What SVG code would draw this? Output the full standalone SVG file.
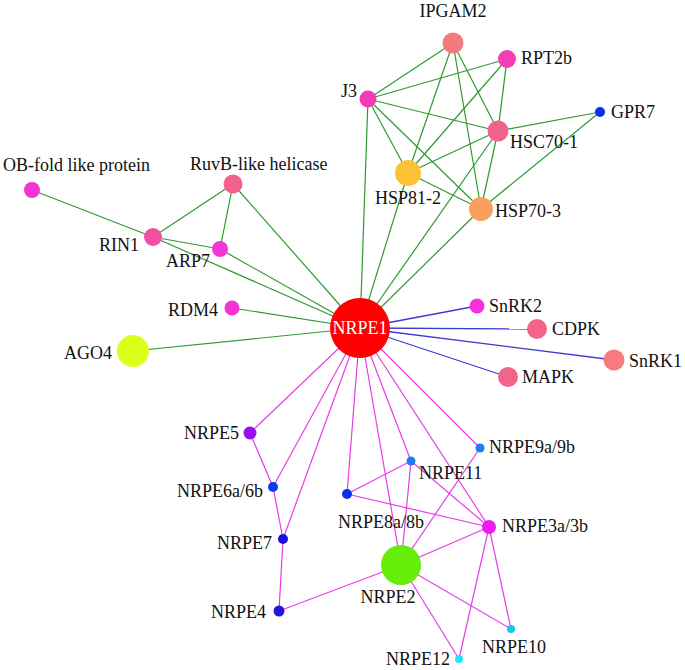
<svg xmlns="http://www.w3.org/2000/svg" width="685" height="670" viewBox="0 0 685 670">
<style>
text{font-family:"Liberation Serif","Times New Roman",serif;font-size:18px;fill:#111}
.g line{stroke:#2f9a2f;stroke-width:1.2}
.b line{stroke:#3a3ad8;stroke-width:1.3}
.m line{stroke:#e83ce8;stroke-width:1.2}
.e{text-anchor:end}
.c{text-anchor:middle}
</style>
<rect width="685" height="670" fill="#fff"/>
<g id="connectors">
<g class="g">
<line x1="453" y1="43" x2="368" y2="99"/>
<line x1="453" y1="43" x2="408" y2="173"/>
<line x1="453" y1="43" x2="498" y2="131"/>
<line x1="453" y1="43" x2="481" y2="209"/>
<line x1="507" y1="59" x2="368" y2="99"/>
<line x1="507" y1="59" x2="408" y2="173"/>
<line x1="507" y1="59" x2="498" y2="131"/>
<line x1="368" y1="99" x2="498" y2="131"/>
<line x1="368" y1="99" x2="408" y2="173"/>
<line x1="368" y1="99" x2="481" y2="209"/>
<line x1="368" y1="99" x2="360" y2="328"/>
<line x1="498" y1="131" x2="600" y2="112"/>
<line x1="498" y1="131" x2="408" y2="173"/>
<line x1="498" y1="131" x2="481" y2="209"/>
<line x1="498" y1="131" x2="360" y2="328"/>
<line x1="600" y1="112" x2="481" y2="209"/>
<line x1="408" y1="173" x2="481" y2="209"/>
<line x1="408" y1="173" x2="360" y2="328"/>
<line x1="481" y1="209" x2="360" y2="328"/>
<line x1="32" y1="190" x2="153" y2="237"/>
<line x1="233" y1="184" x2="153" y2="237"/>
<line x1="233" y1="184" x2="220" y2="249"/>
<line x1="233" y1="184" x2="360" y2="328"/>
<line x1="153" y1="237" x2="220" y2="249"/>
<line x1="153" y1="237" x2="360" y2="328"/>
<line x1="220" y1="249" x2="360" y2="328"/>
<line x1="232" y1="308" x2="360" y2="328"/>
<line x1="133" y1="351" x2="360" y2="328"/>
</g>
<g class="b">
<line x1="360" y1="328" x2="477" y2="306"/>
<line x1="360" y1="328" x2="537" y2="329"/>
<line x1="360" y1="328" x2="614" y2="360"/>
<line x1="360" y1="328" x2="508" y2="377"/>
</g>
<g class="m">
<line x1="360" y1="328" x2="250" y2="433"/>
<line x1="360" y1="328" x2="273" y2="487"/>
<line x1="360" y1="328" x2="283" y2="539"/>
<line x1="360" y1="328" x2="347" y2="494"/>
<line x1="360" y1="328" x2="401" y2="565"/>
<line x1="360" y1="328" x2="411" y2="461"/>
<line x1="360" y1="328" x2="489" y2="527"/>
<line x1="360" y1="328" x2="480" y2="448"/>
<line x1="250" y1="433" x2="273" y2="487"/>
<line x1="273" y1="487" x2="283" y2="539"/>
<line x1="283" y1="539" x2="279" y2="611"/>
<line x1="279" y1="611" x2="401" y2="565"/>
<line x1="347" y1="494" x2="411" y2="461"/>
<line x1="347" y1="494" x2="489" y2="527"/>
<line x1="411" y1="461" x2="489" y2="527"/>
<line x1="411" y1="461" x2="401" y2="565"/>
<line x1="480" y1="448" x2="401" y2="565"/>
<line x1="489" y1="527" x2="401" y2="565"/>
<line x1="489" y1="527" x2="511" y2="629"/>
<line x1="489" y1="527" x2="459" y2="659"/>
<line x1="401" y1="565" x2="511" y2="629"/>
<line x1="401" y1="565" x2="459" y2="659"/>
</g>
</g>
<g id="IPGAM2"><circle cx="453" cy="43" r="10.5" fill="#f47a7d"/><text x="453" y="17" class="c">IPGAM2</text></g>
<g id="RPT2b"><circle cx="507" cy="59" r="9" fill="#f43db6"/><text x="521" y="64">RPT2b</text></g>
<g id="J3"><circle cx="368" cy="99" r="8.5" fill="#f23ab8"/><text x="357" y="97" class="e">J3</text></g>
<g id="GPR7"><circle cx="600" cy="112" r="5" fill="#0b2ee6"/><text x="611" y="118">GPR7</text></g>
<g id="HSC70-1"><circle cx="498" cy="131" r="10.5" fill="#f2628e"/><text x="510" y="148">HSC70-1</text></g>
<g id="HSP81-2"><circle cx="408" cy="173" r="13" fill="#fbc236"/><text x="375" y="204">HSP81-2</text></g>
<g id="HSP70-3"><circle cx="481" cy="209" r="12" fill="#f8a05c"/><text x="495" y="217">HSP70-3</text></g>
<g id="OB-fold"><circle cx="32" cy="190" r="8" fill="#f433d2"/><text x="3" y="171">OB-fold like protein</text></g>
<g id="RuvB"><circle cx="233" cy="184" r="9.5" fill="#f2628f"/><text x="190" y="170">RuvB-like helicase</text></g>
<g id="RIN1"><circle cx="153" cy="237" r="9" fill="#f24fa3"/><text x="139" y="251" class="e">RIN1</text></g>
<g id="ARP7"><circle cx="220" cy="249" r="8" fill="#f436d6"/><text x="166" y="267">ARP7</text></g>
<g id="RDM4"><circle cx="232" cy="308" r="7.5" fill="#f333d4"/><text x="218" y="316" class="e">RDM4</text></g>
<g id="AGO4"><circle cx="133" cy="351" r="16" fill="#dcff1c"/><text x="112" y="359" class="e">AGO4</text></g>
<g id="NRPE1"><circle cx="360" cy="328" r="30" fill="#ff0000"/><text x="360" y="334" class="c" style="fill:#fff">NRPE1</text></g>
<g id="SnRK2"><circle cx="477" cy="306" r="7.5" fill="#f432dc"/><text x="489" y="312">SnRK2</text></g>
<g id="CDPK"><circle cx="537" cy="329" r="10" fill="#f26488"/><text x="552" y="335">CDPK</text></g>
<g id="SnRK1"><circle cx="614" cy="360" r="10.5" fill="#f77b7d"/><text x="629" y="367">SnRK1</text></g>
<g id="MAPK"><circle cx="508" cy="377" r="10" fill="#f2648a"/><text x="522" y="383">MAPK</text></g>
<g id="NRPE5"><circle cx="250" cy="433" r="6.5" fill="#9410f0"/><text x="239" y="439" class="e">NRPE5</text></g>
<g id="NRPE6a-6b"><circle cx="273" cy="487" r="5" fill="#0a3cf0"/><text x="263" y="497" class="e">NRPE6a/6b</text></g>
<g id="NRPE7"><circle cx="283" cy="539" r="5" fill="#1c10e0"/><text x="272" y="549" class="e">NRPE7</text></g>
<g id="NRPE4"><circle cx="279" cy="611" r="5.5" fill="#2a12d8"/><text x="266" y="618" class="e">NRPE4</text></g>
<g id="NRPE8a-8b"><circle cx="347" cy="494" r="5" fill="#0a30e8"/><text x="338" y="528">NRPE8a/8b</text></g>
<g id="NRPE11"><circle cx="411" cy="461" r="4.5" fill="#1a7ff0"/><text x="419" y="479">NRPE11</text></g>
<g id="NRPE9a-9b"><circle cx="480" cy="448" r="4.5" fill="#1a7ff0"/><text x="489" y="453">NRPE9a/9b</text></g>
<g id="NRPE3a-3b"><circle cx="489" cy="527" r="7" fill="#f01af0"/><text x="502" y="532">NRPE3a/3b</text></g>
<g id="NRPE2"><circle cx="401" cy="565" r="20" fill="#66ee0a"/><text x="388" y="603" class="c">NRPE2</text></g>
<g id="NRPE10"><circle cx="511" cy="629" r="4" fill="#1ac4f0"/><text x="482" y="653">NRPE10</text></g>
<g id="NRPE12"><circle cx="459" cy="659" r="4" fill="#22e6f8"/><text x="450" y="665" class="e">NRPE12</text></g>
</svg>
